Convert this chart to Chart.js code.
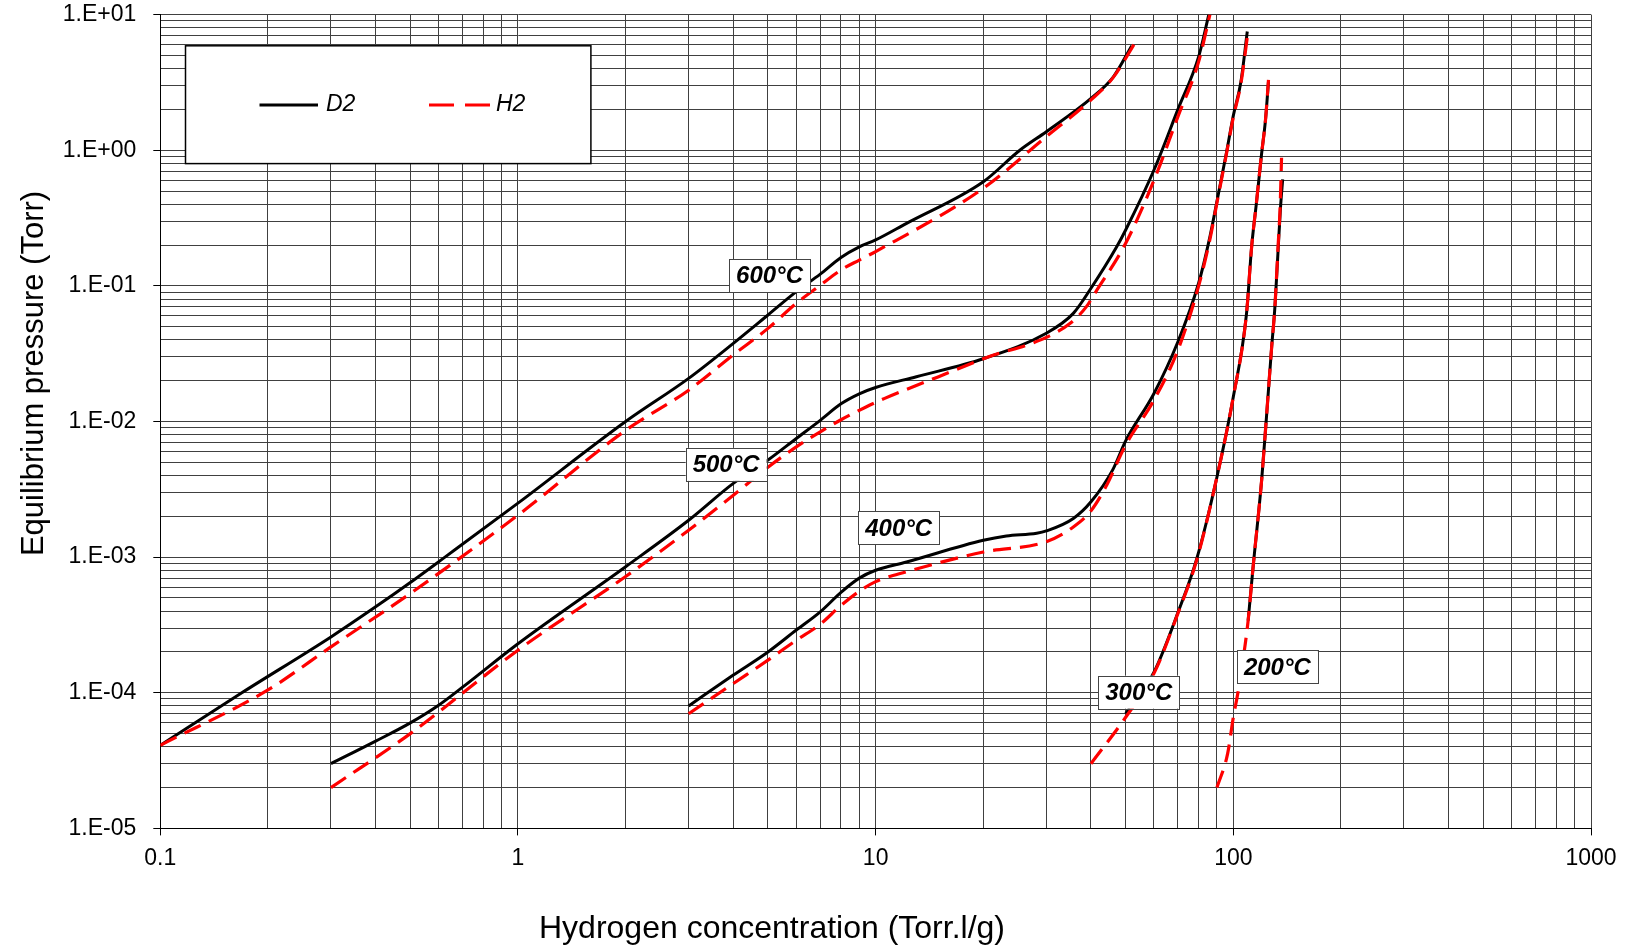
<!DOCTYPE html>
<html>
  <head>
    <title>Equilibrium pressure D2 / H2</title>
    <script src="https://cdn.jsdelivr.net/npm/chart.js"></script>
    <style>
      body {
        margin: 0;
        background: #fff;
      }
    </style>
  </head>
  <body>
    <canvas id="myChart" width="1634" height="948"></canvas>

    <script>
      // Hydrogen concentration (Torr.l/g) and equilibrium pressure (Torr)
      const x600D2 = [0.1, 0.169, 0.3, 0.4, 0.5, 0.625, 1, 2, 3, 4, 5, 6, 7, 8, 9, 10, 12.2, 20, 25.3, 30, 40, 46.2, 52];
      const p600D2 = [4.1e-5, 1.0e-4, 2.58e-4, 4.3e-4, 6.5e-4, 1.0e-3, 2.5e-3, 1.0e-2, 0.0208, 0.0377, 0.061, 0.0906, 0.122, 0.162, 0.194, 0.218, 0.289, 0.586, 1.0, 1.37, 2.41, 3.48, 5.9];
      const x600H2 = [0.1, 0.2, 0.3, 0.5, 1, 2, 3, 4, 5, 6, 7, 8, 9, 10, 20, 30, 40, 46, 53.7];
      const p600H2 = [4.1e-5, 1.05e-4, 2.18e-4, 5.4e-4, 2.04e-3, 8.6e-3, 0.017, 0.031, 0.0486, 0.0743, 0.101, 0.131, 0.155, 0.179, 0.524, 1.26, 2.35, 3.4, 6.5];

      const x500D2 = [0.3, 0.4, 0.5, 0.6, 0.7, 1, 2, 3, 4, 5, 6, 7, 8, 9, 10, 13, 20, 30, 35.7, 40, 47.2, 50, 60, 70, 80, 85.4];
      const p500D2 = [3.0e-5, 4.4e-5, 6.0e-5, 8.1e-5, 1.1e-4, 2.3e-4, 8.5e-4, 1.87e-3, 3.5e-3, 5.2e-3, 7.5e-3, 0.0102, 0.0135, 0.016, 0.0178, 0.0214, 0.029, 0.0447, 0.0627, 0.096, 0.194, 0.258, 0.715, 2.0, 4.9, 10];
      const x500H2 = [0.3, 0.5, 1, 2, 3, 4, 5, 6, 7, 8, 9.4, 10.6, 15, 20.7, 28.8, 35, 38.8, 41, 50, 60, 70, 80, 86];
      const p500H2 = [2.0e-5, 5.0e-5, 2.06e-4, 7.2e-4, 1.58e-3, 2.86e-3, 4.6e-3, 6.5e-3, 8.4e-3, 0.0103, 0.0128, 0.0148, 0.0214, 0.03, 0.0398, 0.053, 0.07, 0.088, 0.206, 0.6, 1.77, 4.5, 10];

      const x400D2 = [3, 4, 5, 6, 7, 8, 9, 10, 12.2, 20, 23.2, 28.2, 30, 35.7, 40, 46, 50, 60, 70, 80, 86, 90, 95.6, 100, 105, 109.4];
      const p400D2 = [8.0e-5, 1.35e-4, 2.0e-4, 2.9e-4, 3.95e-4, 5.5e-4, 7.0e-4, 8.0e-4, 9.2e-4, 1.33e-3, 1.43e-3, 1.5e-3, 1.56e-3, 1.93e-3, 2.56e-3, 4.4e-3, 7.2e-3, 0.0161, 0.0387, 0.105, 0.23, 0.42, 0.95, 1.8, 3.2, 7.5];
      const x400H2 = [3, 4, 5, 6, 7, 8, 9, 10, 12.2, 20, 30, 35.7, 40, 44, 50, 60, 70, 80, 86, 90, 95.6, 100, 105, 110];
      const p400H2 = [7.0e-5, 1.17e-4, 1.74e-4, 2.44e-4, 3.2e-4, 4.4e-4, 5.6e-4, 6.6e-4, 7.8e-4, 1.09e-3, 1.3e-3, 1.67e-3, 2.2e-3, 3.3e-3, 6.7e-3, 0.0144, 0.0336, 0.1, 0.22, 0.41, 0.93, 1.75, 3.1, 7.6];

      const x300D2 = [50, 60, 70, 79, 90, 100, 108.9, 112.5, 116, 120, 123, 125.4];
      const p300D2 = [7.0e-5, 1.42e-4, 3.9e-4, 9.7e-4, 3.9e-3, 0.0152, 0.063, 0.194, 0.406, 0.95, 1.67, 3.2];
      const x300H2 = [40, 50, 60, 70, 79, 90, 100, 108.9, 112.5, 116, 120, 123, 125.4];
      const p300H2 = [3.0e-5, 6.6e-5, 1.39e-4, 3.85e-4, 9.5e-4, 3.9e-3, 0.0152, 0.063, 0.194, 0.406, 0.95, 1.67, 3.3];

      const x200D2 = [110, 113.6, 120, 124, 128, 130.7, 133.5, 135.6, 137.4];
      const p200D2 = [3.4e-4, 8.5e-4, 3.7e-3, 0.0115, 0.0355, 0.07, 0.19, 0.39, 0.61];
      const x200H2 = [90, 96.4, 100, 103, 108, 110, 113.6, 120, 124, 128, 130.7, 133.3, 135.2, 136.4];
      const p200H2 = [2.0e-5, 3.56e-5, 6.6e-5, 1.0e-4, 2.3e-4, 3.4e-4, 8.5e-4, 3.7e-3, 0.0115, 0.0355, 0.07, 0.19, 0.39, 0.88];

      // temperature labels (placed in data coordinates)
      const tempLabels = ["600°C", "500°C", "400°C", "300°C", "200°C"];
      const tempLabelX = [5.05, 3.82, 11.6, 54.4, 132.8];
      const tempLabelP = [0.119, 4.83e-3, 1.64e-3, 1.01e-4, 1.55e-4];

      // axis ticks
      const xTickLabels = ["0.1", "1", "10", "100", "1000"];
      const xDecades = [-1, 0, 1, 2, 3];
      const yTickLabels = ["1.E-05", "1.E-04", "1.E-03", "1.E-02", "1.E-01", "1.E+00", "1.E+01"];
      const yDecades = [-5, -4, -3, -2, -1, 0, 1];

      const FONT = "'Liberation Sans', Arial, sans-serif";

      function pairs(xs, ys) {
        return xs.map((x, i) => ({ x: x, y: ys[i] }));
      }

      function logTicks(decades) {
        const out = [];
        for (let i = 0; i < decades.length; i++) {
          const base = Math.pow(10, decades[i]);
          out.push({ value: base, major: true });
          if (i < decades.length - 1) {
            for (let m = 2; m <= 9; m++) out.push({ value: m * base, major: false });
          }
        }
        return out;
      }

      function decadeLabel(value, decades, labels) {
        const e = Math.round(Math.log10(value));
        if (Math.abs(value / Math.pow(10, e) - 1) > 1e-6) return "";
        const k = decades.indexOf(e);
        return k >= 0 ? labels[k] : "";
      }

      function d2Set(xs, ys) {
        return {
          data: pairs(xs, ys),
          borderColor: "#000",
          borderWidth: 3,
          order: 2,
        };
      }

      function h2Set(xs, ys) {
        return {
          data: pairs(xs, ys),
          borderColor: "#ff0000",
          borderWidth: 3.2,
          borderDash: [18, 9],
          order: 1,
        };
      }

      // titles, legend box and temperature labels
      const decorPlugin = {
        id: "decor",
        afterDraw(chart) {
          const c = chart.ctx;
          const xs = chart.scales.x;
          const ys = chart.scales.y;
          c.save();

          // axis titles
          c.fillStyle = "#000";
          c.font = "32px " + FONT;
          c.textAlign = "center";
          c.textBaseline = "alphabetic";
          c.fillText("Hydrogen concentration (Torr.l/g)", 772, 938);
          c.save();
          c.translate(42.5, 373.5);
          c.rotate(-Math.PI / 2);
          c.font = "31px " + FONT;
          c.fillText("Equilibrium pressure (Torr)", 0, 0);
          c.restore();

          // legend
          c.fillStyle = "#fff";
          c.fillRect(185.5, 45.8, 405.4, 117.8);
          c.strokeStyle = "#000";
          c.lineWidth = 1.5;
          c.strokeRect(185.5, 45.8, 405.4, 117.8);
          c.lineWidth = 3;
          c.beginPath();
          c.moveTo(259.5, 105);
          c.lineTo(318, 105);
          c.stroke();
          c.strokeStyle = "#ff0000";
          c.setLineDash([25, 11]);
          c.beginPath();
          c.moveTo(429, 105);
          c.lineTo(490, 105);
          c.stroke();
          c.setLineDash([]);
          c.fillStyle = "#000";
          c.font = "italic 23px " + FONT;
          c.textAlign = "left";
          c.textBaseline = "middle";
          c.fillText("D2", 326, 105);
          c.fillText("H2", 496, 105);

          // temperature labels
          c.font = "italic bold 24px " + FONT;
          c.textAlign = "center";
          for (let i = 0; i < tempLabels.length; i++) {
            const px = xs.getPixelForValue(tempLabelX[i]);
            const py = ys.getPixelForValue(tempLabelP[i]);
            const w = c.measureText(tempLabels[i]).width + 14;
            const h = 33;
            c.fillStyle = "#fff";
            c.fillRect(px - w / 2, py - h / 2, w, h);
            c.strokeStyle = "#444";
            c.lineWidth = 1;
            c.strokeRect(Math.round(px - w / 2) + 0.5, Math.round(py - h / 2) + 0.5, Math.round(w), h);
            c.fillStyle = "#000";
            c.fillText(tempLabels[i], px, py + 1);
          }
          c.restore();
        },
      };

      const ctx = document.getElementById("myChart").getContext("2d");
      const chart = new Chart(ctx, {
        type: "scatter",
        data: {
          datasets: [
            d2Set(x600D2, p600D2),
            h2Set(x600H2, p600H2),
            d2Set(x500D2, p500D2),
            h2Set(x500H2, p500H2),
            d2Set(x400D2, p400D2),
            h2Set(x400H2, p400H2),
            d2Set(x300D2, p300D2),
            h2Set(x300H2, p300H2),
            d2Set(x200D2, p200D2),
            h2Set(x200H2, p200H2),
          ],
        },
        options: {
          responsive: false,
          animation: false,
          showLine: true,
          layout: { padding: { left: 0, top: 0, right: 43, bottom: 0 } },
          elements: {
            point: { radius: 0, hoverRadius: 0 },
            line: { cubicInterpolationMode: "monotone", fill: false },
          },
          plugins: {
            legend: { display: false },
            tooltip: { enabled: false },
          },
          scales: {
            x: {
              type: "logarithmic",
              position: "bottom",
              min: 0.1,
              max: 1000,
              afterBuildTicks: (s) => {
                s.ticks = logTicks(xDecades);
              },
              afterFit: (s) => {
                s.height = 119.6;
              },
              border: { color: "#000", width: 1 },
              grid: {
                color: "#404040",
                lineWidth: 1,
                tickLength: 7,
                tickColor: (c) => (c.tick && c.tick.major ? "#000" : "rgba(0,0,0,0)"),
              },
              ticks: {
                color: "#000",
                font: { family: FONT, size: 23 },
                padding: 9,
                maxRotation: 0,
                autoSkip: false,
                callback: (v) => decadeLabel(v, xDecades, xTickLabels),
              },
            },
            y: {
              type: "logarithmic",
              position: "left",
              min: 1e-5,
              max: 10,
              afterBuildTicks: (s) => {
                s.ticks = logTicks(yDecades);
              },
              afterFit: (s) => {
                s.width = 160.3;
                s.paddingTop = 14.6;
                s.paddingBottom = 0;
              },
              border: { color: "#000", width: 1 },
              grid: {
                color: "#404040",
                lineWidth: 1,
                tickLength: 7,
                tickColor: (c) => (c.tick && c.tick.major ? "#000" : "rgba(0,0,0,0)"),
              },
              ticks: {
                color: "#000",
                font: { family: FONT, size: 23 },
                padding: 17,
                autoSkip: false,
                callback: (v) => decadeLabel(v, yDecades, yTickLabels),
              },
            },
          },
        },
        plugins: [decorPlugin],
      });
    </script>
  </body>
</html>
